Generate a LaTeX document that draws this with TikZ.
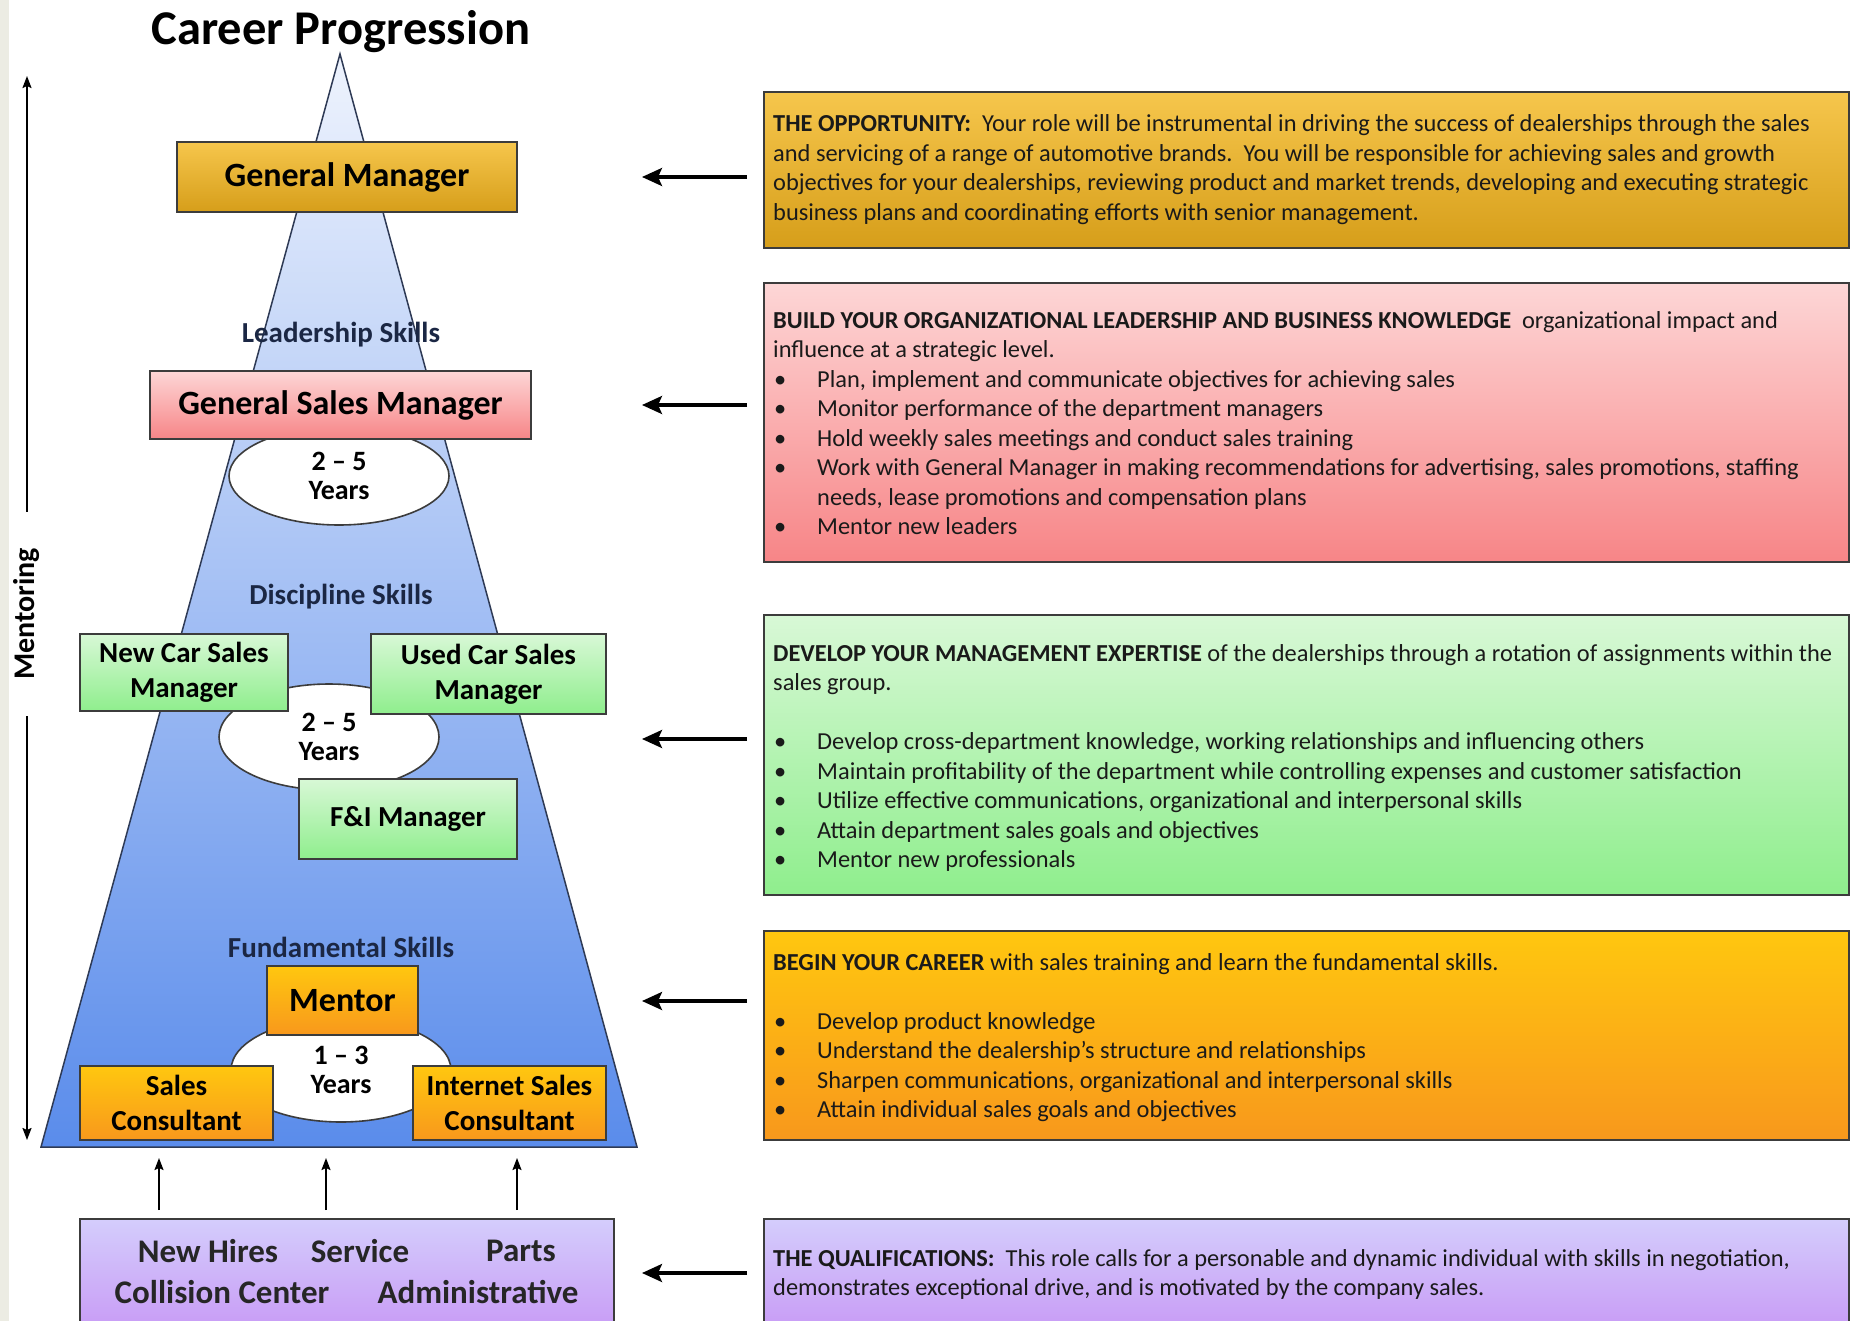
\documentclass[tikz,border=0pt]{standalone}
\usepackage{fontspec}
\setmainfont{Carlito}
\usetikzlibrary{shapes.geometric,arrows.meta}
\definecolor{strip}{HTML}{ECECE3}
\definecolor{boxline}{HTML}{3C3C3C}
\definecolor{triT}{HTML}{EEF3FD}
\definecolor{triM}{HTML}{A9C4F4}
\definecolor{triB}{HTML}{5A8CEB}
\definecolor{triline}{HTML}{2E3A55}
\definecolor{goldT}{HTML}{F6C64C}
\definecolor{goldB}{HTML}{D69E1A}
\definecolor{pinkT}{HTML}{FDD6D6}
\definecolor{pinkB}{HTML}{F78587}
\definecolor{greenT}{HTML}{D8F8D6}
\definecolor{greenB}{HTML}{8FEE8D}
\definecolor{orT}{HTML}{FFC70F}
\definecolor{orB}{HTML}{F8981C}
\definecolor{purT}{HTML}{D4CDFC}
\definecolor{purB}{HTML}{C797F5}
\definecolor{navy}{HTML}{1B2744}
\definecolor{bodytext}{HTML}{1A1A1A}
\newcommand{\mybul}{\hspace*{1pt}\makebox[43pt][l]{\textbullet}}
\newcommand{\mycont}{\hspace*{44pt}}
\begin{document}
\begin{tikzpicture}[x=1pt,y=-1pt,
  box/.style={draw=boxline, line width=1.8pt, inner sep=0pt, align=center, text=black},
  gold/.style={top color=goldT, bottom color=goldB},
  pink/.style={top color=pinkT, bottom color=pinkB},
  green/.style={top color=greenT, bottom color=greenB},
  orng/.style={top color=orT, bottom color=orB},
  purp/.style={top color=purT, bottom color=purB},
  bigtxt/.style={font=\fontsize{34}{41}\selectfont\bfseries},
  medtxt/.style={font=\fontsize{29}{35}\selectfont\bfseries},
  skill/.style={font=\fontsize{29}{35}\selectfont\bfseries, text=navy, inner sep=0pt},
  yrs/.style={ellipse, draw=boxline, line width=1.6pt, fill=white, inner sep=0pt, align=center,
     font=\fontsize{28}{29}\selectfont\bfseries},
  bottxt/.style={font=\fontsize{33}{40}\selectfont\bfseries, text=black!85, inner sep=0pt},
  bodyblk/.style={anchor=north west, inner sep=0pt, align=left, text=bodytext,
     font=\fontsize{24.4}{29.5}\selectfont},
  bigarrow/.style={line width=3.2pt, -{Stealth[length=20pt,width=18pt,inset=4pt]}},
  thinarrow/.style={line width=1.8pt, -{Stealth[length=12pt,width=9pt,inset=2pt]}}
]
\useasboundingbox (0,0) rectangle (1851,1321);
\fill[white] (0,0) rectangle (1851,1321);
\fill[strip] (0,0) rectangle (9,1321);

% title
\node[font=\fontsize{48.5}{58}\selectfont\bfseries, inner sep=0pt] (title) at (341,32) {Career Progression};

% pyramid
\draw[line width=1.5pt, draw=triline, top color=triT, middle color=triM, bottom color=triB]
  (340,54) -- (637,1147) -- (41,1147) -- cycle;

% ellipses
\node[yrs, minimum width=220pt, minimum height=98pt] (e1) at (339,476) {2 -- 5\\Years};
\node[yrs, minimum width=220pt, minimum height=106pt] (e2) at (329,737) {2 -- 5\\Years};
\node[yrs, minimum width=220pt, minimum height=104pt] (e3) at (341,1070) {1 -- 3\\Years};

% skill labels
\node[skill] (lead) at (341,335) {Leadership Skills};
\node[skill] (disc) at (341,597) {Discipline Skills};
\node[skill] (fund) at (341,947) {Fundamental Skills};

% role boxes
\node[box, gold, bigtxt, minimum width=340pt, minimum height=70pt] (gm) at (347,177) {General Manager};
\node[box, pink, bigtxt, minimum width=381pt, minimum height=68pt] (gsm) at (340.5,405) {General Sales Manager};
\node[box, green, medtxt, minimum width=208pt, minimum height=77pt] (ncsm) at (184,672.5) {New Car Sales\\Manager};
\node[box, green, medtxt, minimum width=235pt, minimum height=80pt] (ucsm) at (488.5,674) {Used Car Sales\\Manager};
\node[box, green, medtxt, minimum width=218pt, minimum height=80pt] (fim) at (408,819) {F\&I Manager};
\node[box, orng, bigtxt, minimum width=151pt, minimum height=69pt] (mentor) at (342.5,1000.5) {Mentor};
\node[box, orng, medtxt, minimum width=193pt, minimum height=74pt] (sc) at (176.5,1103) {Sales\\Consultant};
\node[box, orng, medtxt, minimum width=193pt, minimum height=74pt] (isc) at (509.5,1103) {Internet Sales\\Consultant};

% bottom box
\node[box, purp, minimum width=534pt, minimum height=120pt] (hires) at (347,1279) {};
\node[bottxt] (t1) at (208,1251) {New Hires};
\node[bottxt] (t2) at (360,1251) {Service};
\node[bottxt] (t3) at (521,1251) {Parts};
\node[bottxt] (t4) at (222,1292) {Collision Center};
\node[bottxt] (t5) at (478,1292) {Administrative};

% up arrows
\coordinate (ua1) at (159,1210); \coordinate (ub1) at (159,1158);
\coordinate (ua2) at (326,1210); \coordinate (ub2) at (326,1158);
\coordinate (ua3) at (517,1210); \coordinate (ub3) at (517,1158);
\draw[thinarrow] (ua1) -- (ub1);
\draw[thinarrow] (ua2) -- (ub2);
\draw[thinarrow] (ua3) -- (ub3);

% mentoring axis
\node[font=\fontsize{30}{36}\selectfont\bfseries, rotate=90, inner xsep=36pt, inner ysep=0pt] (ment) at (27,614) {Mentoring};
\coordinate (mtop) at (27,76);
\coordinate (mbot) at (27,1140);
\draw[thinarrow] (ment.east) -- (mtop);
\draw[thinarrow] (ment.west) -- (mbot);

% right boxes
\node[box, gold, minimum width=1085pt, minimum height=156pt] (ba) at (1306.5,170) {};
\node[box, pink, minimum width=1085pt, minimum height=279pt] (bb) at (1306.5,422.5) {};
\node[box, green, minimum width=1085pt, minimum height=280pt] (bc) at (1306.5,755) {};
\node[box, orng, minimum width=1085pt, minimum height=209pt] (bd) at (1306.5,1035.5) {};
\node[box, purp, minimum width=1085pt, minimum height=120pt] (be) at (1306.5,1279) {};

\node[bodyblk] (txa) at (773,111) {\strut\textbf{THE OPPORTUNITY:}\ \ Your role will be instrumental in driving the success of dealerships through the sales\\
and servicing of a range of automotive brands.\ \ You will be responsible for achieving sales and growth\\
objectives for your dealerships, reviewing product and market trends, developing and executing strategic\\
business plans and coordinating efforts with senior management.};

\node[bodyblk] (txb) at (773,307.5) {\strut\textbf{BUILD YOUR ORGANIZATIONAL LEADERSHIP AND BUSINESS KNOWLEDGE}\ \ organizational impact and\\
influence at a strategic level.\\
\mybul Plan, implement and communicate objectives for achieving sales\\
\mybul Monitor performance of the department managers\\
\mybul Hold weekly sales meetings and conduct sales training\\
\mybul Work with General Manager in making recommendations for advertising, sales promotions, staffing\\
\mycont needs, lease promotions and compensation plans\\
\mybul Mentor new leaders};

\node[bodyblk] (txc) at (773,640.5) {\strut\textbf{DEVELOP YOUR MANAGEMENT EXPERTISE} of the dealerships through a rotation of assignments within the\\
sales group.\\[29.5pt]
\mybul Develop cross-department knowledge, working relationships and influencing others\\
\mybul Maintain profitability of the department while controlling expenses and customer satisfaction\\
\mybul Utilize effective communications, organizational and interpersonal skills\\
\mybul Attain department sales goals and objectives\\
\mybul Mentor new professionals};

\node[bodyblk] (txd) at (773,949.5) {\strut\textbf{BEGIN YOUR CAREER} with sales training and learn the fundamental skills.\\[29.5pt]
\mybul Develop product knowledge\\
\mybul Understand the dealership’s structure and relationships\\
\mybul Sharpen communications, organizational and interpersonal skills\\
\mybul Attain individual sales goals and objectives};

\node[bodyblk] (txe) at (773,1245.5) {\strut\textbf{THE QUALIFICATIONS:}\ \ This role calls for a personable and dynamic individual with skills in negotiation,\\
demonstrates exceptional drive, and is motivated by the company sales.};

% left arrows
\coordinate (la1) at (747,177);  \coordinate (lb1) at (642,177);
\coordinate (la2) at (747,405);  \coordinate (lb2) at (642,405);
\coordinate (la3) at (747,739);  \coordinate (lb3) at (642,739);
\coordinate (la4) at (747,1001); \coordinate (lb4) at (642,1001);
\coordinate (la5) at (747,1273); \coordinate (lb5) at (642,1273);
\draw[bigarrow] (la1) -- (lb1);
\draw[bigarrow] (la2) -- (lb2);
\draw[bigarrow] (la3) -- (lb3);
\draw[bigarrow] (la4) -- (lb4);
\draw[bigarrow] (la5) -- (lb5);
\end{tikzpicture}
\end{document}
